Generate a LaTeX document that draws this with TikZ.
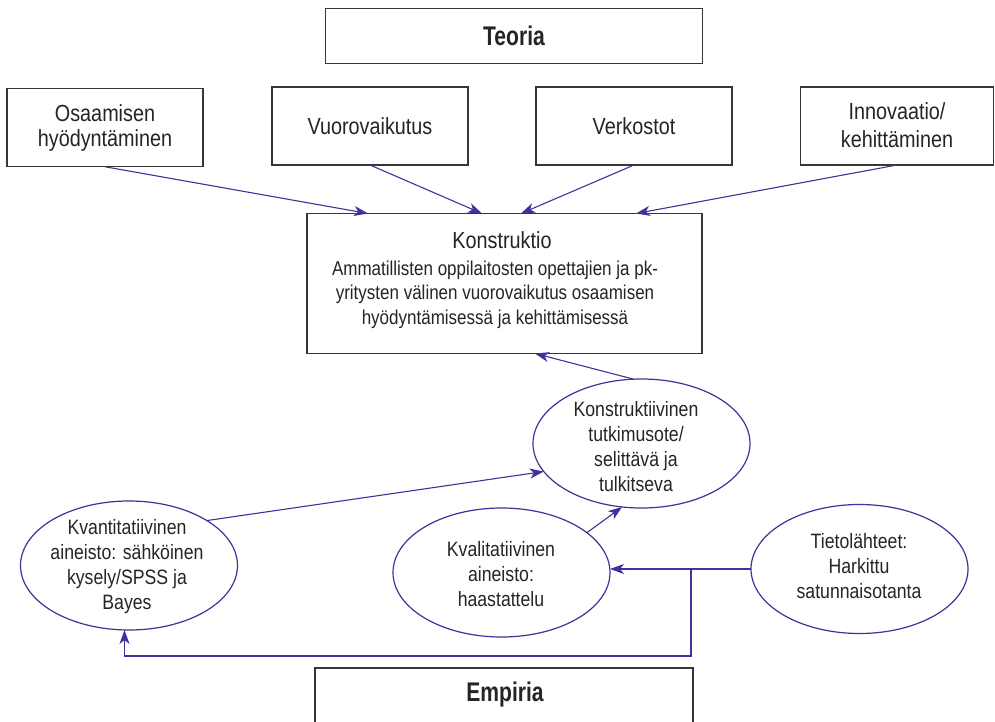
\documentclass[tikz,border=0pt]{standalone}
\usepackage{fontspec}
\setmainfont{Liberation Sans}[FakeStretch=0.85]
\newfontfamily\headfont{Liberation Sans}[FakeStretch=0.78]
\usetikzlibrary{arrows.meta,calc,shapes.geometric}
\definecolor{linkblue}{RGB}{63,50,155}
\definecolor{ink}{RGB}{38,36,38}
\definecolor{frame}{RGB}{55,55,55}
\begin{document}
\begin{tikzpicture}[x=1pt,y=-1pt,
  box/.style={draw=frame,line width=1.2pt,fill=white,inner sep=0pt,outer sep=0pt},
  oval/.style={ellipse,draw=linkblue,line width=1.2pt,inner sep=0pt,outer sep=0pt,
    minimum width=217pt,minimum height=129pt},
  boxtext/.style={align=center,text=ink,inner sep=0pt,font=\fontsize{23.3}{25}\selectfont},
  ovaltext/.style={align=center,text=ink,inner sep=0pt,font=\fontsize{20.8}{25}\selectfont},
  headtext/.style={text=ink,inner sep=0pt,font=\headfont\bfseries\fontsize{27}{30}\selectfont},
  link/.style={draw=linkblue,line width=1.1pt,-{Stealth[length=14pt,width=10pt,inset=4pt]}},
  linkplain/.style={draw=linkblue,line width=1.1pt}
]
\path[use as bounding box,clip] (0,0) rectangle (995,722);

% Theory level
\node[box,minimum width=377.5pt,minimum height=55pt] (teoria) at (514,35.8) {};
\node[headtext] (teoriatxt) at (teoria) {Teoria};

\node[box,minimum width=196pt,minimum height=78.5pt] (osa) at (105,127.5) {};
\node[boxtext] (osatxt) at (osa) {Osaamisen\\hyödyntäminen};
\node[box,minimum width=196pt,minimum height=78pt] (vuo) at (370,126) {};
\node[boxtext] (vuotxt) at (vuo) {Vuorovaikutus};
\node[box,minimum width=196pt,minimum height=78pt] (ver) at (634,126) {};
\node[boxtext] (vertxt) at (ver) {Verkostot};
\node[box,minimum width=193pt,minimum height=78pt] (inn) at (897,126) {};
\node[boxtext,font=\fontsize{23.3}{28}\selectfont] (inntxt) at (897,125) {Innovaatio/\\kehittäminen};

% Construct
\node[box,minimum width=395pt,minimum height=140pt] (kon) at (504.5,283.5) {};
\node[text=ink,inner sep=0pt,font=\fontsize{23.3}{25}\selectfont,anchor=base] (konhead) at (502,248) {Konstruktio};
\node[align=center,text=ink,inner sep=0pt,font=\fontsize{20}{24.5}\selectfont,anchor=base] (konbody) at (495,324)
  {Ammatillisten oppilaitosten opettajien ja pk-\\yritysten välinen vuorovaikutus osaamisen\\hyödyntämisessä ja kehittämisessä};

% Method and data
\node[oval] (konst) at (641.5,443.5) {};
\node[ovaltext] (konsttxt) at (636,447) {Konstruktiivinen\\tutkimusote/\\selittävä ja\\tulkitseva};
\node[oval] (kvant) at (129,565.5) {};
\node[ovaltext] (kvanttxt) at (127,567) {Kvantitatiivinen\\aineisto: sähköinen\\kysely/SPSS ja\\Bayes};
\node[oval] (kval) at (501.5,572.5) {};
\node[ovaltext] (kvaltxt) at (501,574) {Kvalitatiivinen\\aineisto:\\haastattelu};
\node[oval] (tie) at (859.5,569) {};
\node[ovaltext] (tietxt) at (859,566) {Tietolähteet:\\Harkittu\\satunnaisotanta};

% Empirical level
\node[box,minimum width=378pt,minimum height=64pt] (emp) at (504,700) {};
\node[headtext] (emptxt) at (505,694.5) {Empiria};

% Theory concepts into the construct
\draw[link] (osa.south) -- ($(kon.north west)+(61,0)$);
\draw[link] (vuo.south) -- ($(kon.north west)+(175,0)$);
\draw[link] (ver.south) -- ($(kon.north west)+(214,0)$);
\draw[link] (inn.south) -- ($(kon.north west)+(329,0)$);

% Method supports the construct
\draw[link] (konst.97) -- ($(kon.south west)+(228,0)$);

% Data into the method
\draw[link] (kvant.30.5) -- (konst.196.5);
\draw[link] (kval.25.3) -- (konst.253.2);

% Sources feed both data sets
\coordinate (split) at (691,569);
\coordinate (bend) at (691,656);
\draw[link] (tie.west) -- (tie.west -| kval.east);
\draw[link] (split) -- (bend) -| ([xshift=-4.5pt]kvant.south);
\end{tikzpicture}
\end{document}
